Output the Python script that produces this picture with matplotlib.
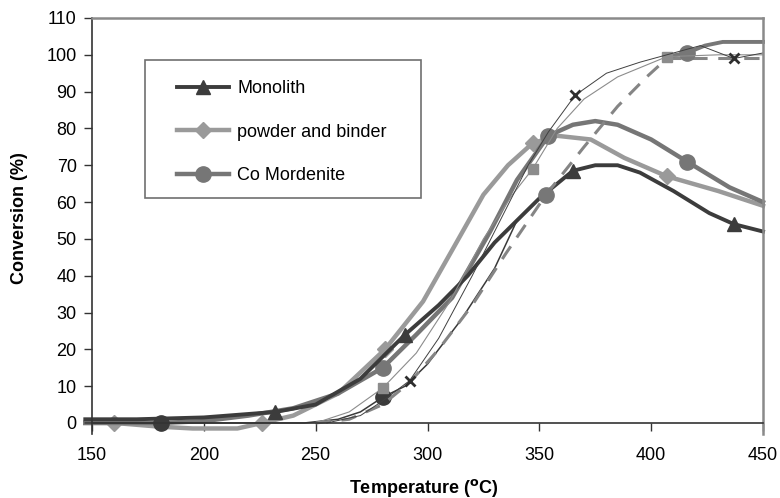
import matplotlib.pyplot as plt
from matplotlib.patches import Rectangle

plt.rcParams['font.family'] = ['Liberation Sans', 'DejaVu Sans']

# legend series
mono_t = [147, 170, 200, 232, 250, 270, 290, 305, 318, 330, 350, 365, 375, 385, 395, 410, 426, 437, 450]
mono_c = [1, 1, 1.5, 3, 5, 12, 24, 32, 40, 49, 61, 68.5, 70, 70, 68, 63, 57, 54, 52]
mono_mk = [232, 290, 365, 437]

powder_t = [147, 160, 180, 195, 215, 226, 240, 260, 281, 298, 312, 325, 336, 347, 358, 373, 388, 407, 430, 450]
powder_c = [0, 0, -1, -1.5, -1.5, 0, 2, 8, 20, 33, 48, 62, 70, 76, 78, 77, 72, 67, 63, 59]
powder_mk = [160, 226, 281, 347, 407]

como_t = [147, 181, 200, 220, 240, 260, 280, 295, 311, 328, 340, 354, 365, 375, 385, 400, 416, 435, 450]
como_c = [0, 0, 0.5, 2, 4, 8, 15, 24, 34, 52, 66, 78, 81, 82, 81, 77, 71, 64, 60]
como_mk = [280, 354, 416]

# other runs (no legend entry)
dark_t = [147, 181, 220, 245, 260, 270, 280, 290, 300, 315, 330, 340]
dark_c = [0, 0, 0, 0, 1, 3, 7, 10, 16, 28, 42, 55]
dark_mk = [181, 280]

dash_t = [250, 265, 280, 292, 305, 320, 335, 353, 370, 385, 398, 407, 420, 435, 450]
dash_c = [0, 1, 5, 11, 20, 32, 46, 62, 75, 86, 94, 99, 99, 99, 99]
dash_mk = [353]

top_t = [407, 416, 424, 432, 450]
top_c = [99.5, 100.5, 102.5, 103.5, 103.5]
top_mk = [416]

sq_t = [250, 265, 280, 295, 310, 325, 338, 347, 358, 370, 385, 407, 430, 450]
sq_c = [0, 3, 9.5, 19, 33, 50, 62, 69, 80, 88, 94, 99.5, 100, 100]
sq_mk = [280, 347, 407]

x_t = [255, 270, 280, 292, 305, 320, 335, 345, 354, 366, 380, 395, 407, 422, 437, 450]
x_c = [0, 2, 6, 11.5, 23, 40, 58, 70, 79, 89, 95, 98, 100, 102.5, 99, 100.5]
x_mk = [292, 366, 437]

x_ticks = [150, 200, 250, 300, 350, 400, 450]
y_ticks = list(range(0, 111, 10))


def idx(t, marks):
    return [t.index(m) for m in marks]


fig = plt.figure(figsize=(7.8, 4.98), dpi=100)
ax = fig.add_axes([92 / 780, 64 / 498, 671 / 780, 416 / 498])

l_pow, = ax.plot(powder_t, powder_c, color='#9a9a9a', lw=3.2, marker='D', ms=8,
                 markevery=idx(powder_t, powder_mk), clip_on=False, label='powder and binder')
l_com, = ax.plot(como_t, como_c, color='#767676', lw=3.2, marker='o', ms=11,
                 markevery=idx(como_t, como_mk), clip_on=False, label='Co Mordenite')
l_mon, = ax.plot(mono_t, mono_c, color='#3c3c3c', lw=2.8, marker='^', ms=10,
                 markevery=idx(mono_t, mono_mk), clip_on=False, label='Monolith')
ax.plot(dark_t, dark_c, color='#3a3a3a', lw=1.1, marker='o', ms=11,
        markevery=idx(dark_t, dark_mk), clip_on=False)
ax.plot(dash_t, dash_c, color='#858585', lw=2.2, dashes=(5, 3.5), marker='o', ms=11,
        markevery=idx(dash_t, dash_mk), mfc='#777777', mec='#777777')
ax.plot(top_t, top_c, color='#777777', lw=2.8, marker='o', ms=11,
        markevery=idx(top_t, top_mk), clip_on=False)
ax.plot(sq_t, sq_c, color='#8c8c8c', lw=0.8, marker='s', ms=7.5,
        markevery=idx(sq_t, sq_mk), clip_on=False)
ax.plot(x_t, x_c, color='#404040', lw=0.7, marker='x', ms=7, mew=2, mec='#2e2e2e',
        markevery=idx(x_t, x_mk), clip_on=False)

ax.set_xlim(150, 450)
ax.set_ylim(-3, 110)
ax.set_xticks(x_ticks)
ax.set_yticks(y_ticks)
ax.spines['bottom'].set_position(('data', 0))
ax.spines['bottom'].set_color('#333333')
ax.spines['left'].set_color('#333333')
ax.spines['left'].set_linewidth(1.2)
ax.spines['bottom'].set_linewidth(1.2)
ax.spines['top'].set_color('#8a8a8a')
ax.spines['right'].set_color('#8a8a8a')
ax.spines['top'].set_linewidth(1.8)
ax.spines['right'].set_linewidth(1.8)
ax.tick_params(axis='x', direction='out', length=6, width=1, pad=11, labelsize=13, color='#333333')
ax.tick_params(axis='y', direction='out', length=6, width=1, pad=5, labelsize=13, color='#333333')

fig.text(20 / 780, 1 - 218 / 498, 'Conversion (%)', rotation=90, ha='center', va='center',
         fontsize=13, fontweight='bold')
fig.text(424 / 780, 1 - 488 / 498, r'Temperature ($\mathbf{^o}$C)', ha='center', va='center',
         fontsize=13, fontweight='bold')

# legend box
ax.add_patch(Rectangle((53 / 671, (434 - 198) / 416), 276 / 671, 138 / 416,
                       transform=ax.transAxes, fill=False, edgecolor='#707070', lw=1.2, zorder=5))
ax.legend(handles=[l_mon, l_pow, l_com], loc='upper left',
          bbox_to_anchor=((177 - 92) / 671, (434 - 80) / 416), frameon=False,
          borderpad=0, borderaxespad=0, fontsize=13, handlelength=2.9,
          handletextpad=0.45, labelspacing=1.47, markerscale=1.0)

fig.savefig('out.png', dpi=100)
